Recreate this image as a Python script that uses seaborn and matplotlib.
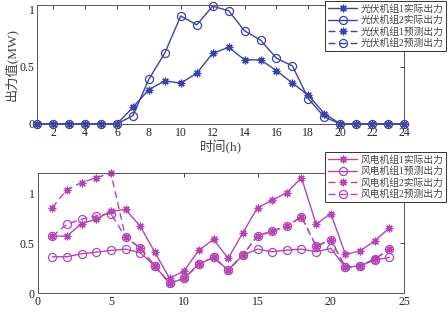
# PV and wind output curves

import numpy as np
import pandas as pd
import matplotlib
matplotlib.use('Agg')
import matplotlib.pyplot as plt
import seaborn as sns
from matplotlib.lines import Line2D

hours = list(range(1, 25))

pv1_actual = [0, 0, 0, 0, 0, 0, 0.145, 0.30, 0.376, 0.356, 0.443, 0.617,
              0.67, 0.56, 0.56, 0.466, 0.356, 0.25, 0.09, 0, 0, 0, 0, 0]
pv2_actual = [0, 0, 0, 0, 0, 0, 0.072, 0.39, 0.62, 0.944, 0.866, 1.03,
              0.99, 0.814, 0.733, 0.574, 0.507, 0.22, 0.06, 0, 0, 0, 0, 0]

wind1_actual = [0.571, 0.571, 0.697, 0.74, 0.82, 0.837, 0.67, 0.408, 0.149, 0.225,
                0.431, 0.538, 0.349, 0.604, 0.856, 0.929, 1.006, 1.155, 0.69, 0.797,
                0.388, 0.424, 0.524, 0.653]
wind1_pred = [0.365, 0.365, 0.395, 0.411, 0.428, 0.441, 0.405, 0.272, 0.10, 0.149,
              0.292, 0.358, 0.232, 0.381, 0.441, 0.415, 0.431, 0.441, 0.415, 0.448,
              0.259, 0.275, 0.332, 0.358]
wind2_actual = [0.856, 1.036, 1.105, 1.155, 1.2, 0.558, 0.454, 0.272, 0.10, 0.149,
                0.292, 0.358, 0.232, 0.381, 0.574, 0.62, 0.673, 0.763, 0.471, 0.531,
                0.259, 0.275, 0.342, 0.438]
wind2_pred = [0.571, 0.69, 0.74, 0.773, 0.797, 0.558, 0.454, 0.272, 0.10, 0.149,
              0.292, 0.358, 0.232, 0.381, 0.574, 0.62, 0.673, 0.763, 0.471, 0.531,
              0.259, 0.275, 0.342, 0.438]

pv_labels = ['光伏机组1实际出力', '光伏机组2实际出力', '光伏机组1预测出力', '光伏机组2预测出力']
wind_labels = ['风电机组1实际出力', '风电机组1预测出力', '风电机组2实际出力', '风电机组2预测出力']

df_pv = pd.DataFrame({'h': hours, 'pv1': pv1_actual, 'pv2': pv2_actual})
df_w = pd.DataFrame({'h': hours, 'w1a': wind1_actual, 'w1p': wind1_pred,
                     'w2a': wind2_actual, 'w2p': wind2_pred})

sns.set_style('white')
plt.rcParams['font.family'] = ['Liberation Serif', 'Noto Sans CJK SC']
plt.rcParams['axes.unicode_minus'] = False

blue = '#3a44a8'
mag = '#b545b5'
fs = 8.5
dash = (0, (5, 3))

fig = plt.figure(figsize=(4.48, 3.12), dpi=100)
ax1 = fig.add_axes([0.083, 0.603, 0.819, 0.381])
ax2 = fig.add_axes([0.084, 0.06, 0.818, 0.385])

# matlab style asterisk and open circle
star = dict(marker=(8, 2, 0), markersize=5.5, markeredgewidth=0.9, linewidth=1, clip_on=False)
circ = dict(marker='o', markersize=5.8, markerfacecolor='none', markeredgewidth=0.9,
            linewidth=1, clip_on=False)

sns.lineplot(data=df_pv, x='h', y='pv1', ax=ax1, color=blue, markeredgecolor=blue, **star)
sns.lineplot(data=df_pv, x='h', y='pv2', ax=ax1, color=blue, markeredgecolor=blue, **circ)

sns.lineplot(data=df_w, x='h', y='w1a', ax=ax2, color=mag, markeredgecolor=mag, **star)
sns.lineplot(data=df_w, x='h', y='w1p', ax=ax2, color=mag, markeredgecolor=mag, **circ)
sns.lineplot(data=df_w, x='h', y='w2a', ax=ax2, color=mag, markeredgecolor=mag, linestyle=dash, **star)
sns.lineplot(data=df_w, x='h', y='w2p', ax=ax2, color=mag, markeredgecolor=mag, linestyle=dash, **circ)

ax1.set_xlim(1, 24)
ax1.set_ylim(0, 1.04)
ax1.set_xticks(range(2, 25, 2))
ax1.set_yticks([0, 0.5, 1])
ax1.set_yticklabels(['0', '0.5', '1'])
ax1.set_xlabel('时间(h)', fontsize=fs + 1, color='#444444', labelpad=1)
ax1.set_ylabel('出力值(MW)', fontsize=fs + 1, color='#444444', labelpad=1)

ax2.set_xlim(0, 25)
ax2.set_ylim(0, 1.2)
ax2.set_xticks(range(0, 26, 5))
ax2.set_yticks([0, 0.5, 1])
ax2.set_yticklabels(['0', '0.5', '1'])
ax2.set_xlabel('')
ax2.set_ylabel('')

for ax in (ax1, ax2):
    ax.tick_params(direction='in', length=3, width=0.6, top=True, right=True,
                   labelsize=fs, colors='#222222', pad=2)
    for s in ax.spines.values():
        s.set_linewidth(0.7)
        s.set_color('#555555')


def make_handles(col):
    return [Line2D([], [], color=col, markeredgecolor=col, **star),
            Line2D([], [], color=col, markeredgecolor=col, **circ),
            Line2D([], [], color=col, markeredgecolor=col, linestyle=dash, **star),
            Line2D([], [], color=col, markeredgecolor=col, linestyle=dash, **circ)]


leg_kw = dict(loc='upper right', fontsize=7, frameon=True, fancybox=False,
              handlelength=3.0, handletextpad=0.3, borderpad=0.3, labelspacing=0.2,
              borderaxespad=0)
l1 = ax1.legend(make_handles(blue), pv_labels, bbox_to_anchor=(446 / 448, 1 - 1 / 312),
                bbox_transform=fig.transFigure, **leg_kw)
l2 = ax2.legend(make_handles(mag), wind_labels, bbox_to_anchor=(446 / 448, 1 - 152 / 312),
                bbox_transform=fig.transFigure, **leg_kw)
for l in (l1, l2):
    l.get_frame().set_edgecolor('#333333')
    l.get_frame().set_linewidth(0.7)
    l.get_frame().set_alpha(1)
    for t in l.get_texts():
        t.set_color('#444444')

fig.savefig('out.png', dpi=100)
